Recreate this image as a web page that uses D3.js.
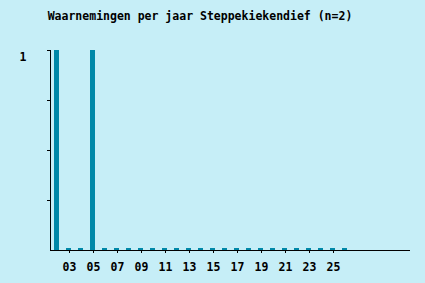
<!DOCTYPE html>
<html lang="nl">
<head>
  <meta charset="UTF-8" />
  <title>Waarnemingen per jaar</title>
  <style>
    body { margin: 0; background: #c6eef7; }
    svg { display: block; }
    text { font-family: "DejaVu Sans Mono", monospace; font-weight: bold; font-size: 11.5px; fill: #000; }
  </style>
</head>
<body>
  <svg id="chart" width="425" height="283"></svg>
  <script src="https://d3js.org/d3.v7.min.js"></script>
  <script>
    const years = d3.range(2002, 2027);
    const counts = [1, 0, 0, 1, 0, 0, 0, 0, 0, 0, 0, 0, 0, 0, 0, 0, 0, 0, 0, 0, 0, 0, 0, 0, 0];
    const tickYears = [2003, 2005, 2007, 2009, 2011, 2013, 2015, 2017, 2019, 2021, 2023, 2025];
    const yTicks = [0.25, 0.5, 0.75, 1];
    const yLabels = [1];

    const svg = d3.select("#chart");
    const mLeft = 50, mRight = 410, mTop = 50, mBottom = 250;

    // one year = 12px, first bar centred at 56.5
    const x = d3.scaleLinear().domain([2001.458, 2031.458]).range([mLeft, mRight]);
    const y = d3.scaleLinear().domain([0, 1]).range([mBottom, mTop]);
    const barW = 5;

    svg.append("text")
      .attr("x", 200).attr("y", 20)
      .attr("text-anchor", "middle")
      .text("Waarnemingen per jaar Steppekiekendief (n=2)");

    svg.append("g").selectAll("rect")
      .data(years.map((yr, i) => ({ yr, v: counts[i] })))
      .join("rect")
      .attr("x", d => x(d.yr) - barW / 2)
      .attr("width", barW)
      .attr("y", d => Math.min(y(d.v), mBottom - 2))
      .attr("height", d => Math.max(mBottom - y(d.v), 2))
      .attr("fill", "#0088a8");

    // axes
    const axis = svg.append("g").attr("stroke", "#000").attr("stroke-width", 1).attr("shape-rendering", "crispEdges");
    axis.append("line").attr("x1", mLeft).attr("x2", mLeft).attr("y1", mTop).attr("y2", mBottom + 0.5);
    axis.append("line").attr("x1", mLeft).attr("x2", mRight).attr("y1", mBottom + 0.5).attr("y2", mBottom + 0.5);

    axis.selectAll(".yt").data(yTicks).join("line")
      .attr("x1", mLeft - 3).attr("x2", mLeft)
      .attr("y1", d => y(d) + 0.5).attr("y2", d => y(d) + 0.5);

    axis.selectAll(".xt").data(tickYears).join("line")
      .attr("x1", d => Math.round(x(d)) + 0.5).attr("x2", d => Math.round(x(d)) + 0.5)
      .attr("y1", mBottom).attr("y2", mBottom + 3);

    svg.append("g").selectAll("text")
      .data(tickYears).join("text")
      .attr("x", d => x(d) + 1)
      .attr("y", 271)
      .attr("text-anchor", "middle")
      .text(d => String(d % 100).padStart(2, "0"));

    svg.append("g").selectAll("text")
      .data(yLabels).join("text")
      .attr("x", 23)
      .attr("y", y(1) + 11)
      .attr("text-anchor", "middle")
      .text(d => d);
  </script>
</body>
</html>
